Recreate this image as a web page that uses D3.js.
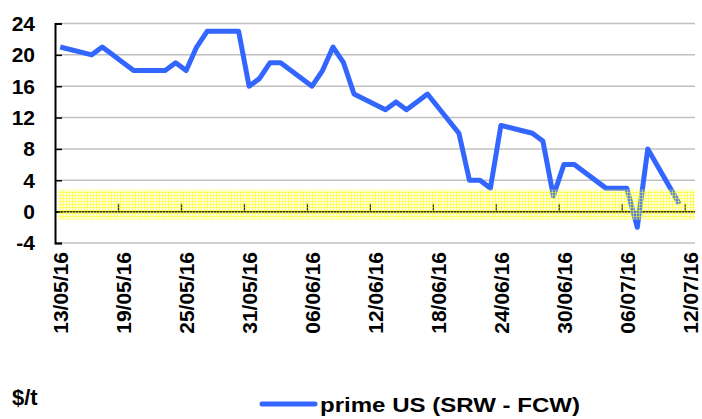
<!DOCTYPE html>
<html>
<head>
<meta charset="utf-8">
<script src="https://cdn.jsdelivr.net/npm/d3@7"></script>
<style>
  body { margin: 0; background: #fff; }
  svg { display: block; font-family: Arial, "Liberation Sans", sans-serif; font-weight: bold; }
</style>
</head>
<body>
<div id="chart"></div>
<script>
// trading days and the premium in $/t
const dates = [
  "13/05/16", "16/05/16", "17/05/16", "18/05/16", "19/05/16", "20/05/16",
  "23/05/16", "24/05/16", "25/05/16", "26/05/16", "27/05/16", "30/05/16",
  "31/05/16", "01/06/16", "02/06/16", "03/06/16", "06/06/16", "07/06/16",
  "08/06/16", "09/06/16", "10/06/16", "13/06/16", "14/06/16", "15/06/16",
  "16/06/16", "17/06/16", "20/06/16", "21/06/16", "22/06/16", "23/06/16",
  "24/06/16", "27/06/16", "28/06/16", "29/06/16", "30/06/16", "01/07/16",
  "04/07/16", "05/07/16", "06/07/16", "07/07/16", "08/07/16", "11/07/16"
];
const premium = [
  21, 20, 21, 20, 19, 18,
  18, 19, 18, 21, 23, 23,
  16, 17, 19, 19, 16, 18,
  21, 19, 15, 13, 14, 13,
  14, 15, 10, 4, 4, 3,
  11, 10, 9, 2, 6, 6,
  3, 3, 3, -2, 8, 1
];
const tickLabels = [
  "13/05/16", "19/05/16", "25/05/16", "31/05/16", "06/06/16", "12/06/16",
  "18/06/16", "24/06/16", "30/06/16", "06/07/16", "12/07/16"
];
const yTicks = [-4, 0, 4, 8, 12, 16, 20, 24];
const band = [-1, 2.8];
const seriesName = "prime US (SRW - FCW)";
const unitLabel = "$/t";

const width = 702, height = 419;
const parse = d3.timeParse("%d/%m/%y");

const data = dates.map((d, i) => ({ date: parse(d), value: premium[i] }));

const start = parse(tickLabels[0]);
const end = d3.timeDay.offset(parse(tickLabels[tickLabels.length - 1]), 1);

const x = d3.scaleTime().domain([start, end]).range([55, 695]);
const y = d3.scaleLinear().domain([-4, 24]).range([243, 23.5]);

// points sit in the middle of their day
const mid = (d) => x(d3.timeHour.offset(d, 12));

const svg = d3.select("#chart").append("svg")
  .attr("width", width)
  .attr("height", height);

const defs = svg.append("defs");
const pat = defs.append("pattern")
  .attr("id", "hatch")
  .attr("width", 3).attr("height", 3)
  .attr("patternUnits", "userSpaceOnUse");
pat.append("rect").attr("width", 3).attr("height", 3)
  .attr("fill", "#ffff80").attr("opacity", 0.2);
pat.append("rect").attr("width", 3).attr("height", 1)
  .attr("fill", "#ffff00").attr("opacity", 0.5);
pat.append("rect").attr("width", 1).attr("height", 3)
  .attr("fill", "#ffff00").attr("opacity", 0.5);

// gridlines
svg.append("g")
  .selectAll("line")
  .data(yTicks)
  .join("line")
  .attr("x1", 55).attr("x2", 695)
  .attr("y1", (d) => y(d)).attr("y2", (d) => y(d))
  .attr("stroke", "#c0c0c0")
  .attr("stroke-width", 1.5);

// y axis
const yAxis = svg.append("g")
  .attr("transform", "translate(55,0)")
  .call(d3.axisRight(y).tickValues(yTicks).tickSize(7).tickFormat(""));
yAxis.select(".domain").attr("stroke", "#000").attr("stroke-width", 2);
yAxis.selectAll(".tick line").attr("stroke", "#000").attr("stroke-width", 1.5);

svg.append("g")
  .selectAll("text")
  .data(yTicks)
  .join("text")
  .attr("x", 35)
  .attr("y", (d) => y(d))
  .attr("dy", "0.35em")
  .attr("text-anchor", "end")
  .style("font-size", "21px")
  .text((d) => d);

// zero axis with date ticks
const xAxis = svg.append("g")
  .attr("transform", "translate(0," + y(0) + ")")
  .call(d3.axisTop(x)
    .tickValues(tickLabels.map(parse).slice(1))
    .tickSize(8)
    .tickFormat(""));
xAxis.select(".domain").attr("stroke", "#000").attr("stroke-width", 1.5)
  .attr("d", "M55,0H695");
xAxis.selectAll(".tick line").attr("stroke", "#000").attr("stroke-width", 1.5);

// date labels
svg.append("g")
  .selectAll("text")
  .data(tickLabels)
  .join("text")
  .attr("transform", (d) => "translate(" + (x(parse(d)) + 6) + ",252) rotate(-90)")
  .attr("dy", "0.35em")
  .attr("text-anchor", "end")
  .style("font-size", "21px")
  .text((d) => d);

// series
const line = d3.line()
  .x((d) => mid(d.date))
  .y((d) => y(d.value));

svg.append("path")
  .datum(data)
  .attr("d", line)
  .attr("fill", "none")
  .attr("stroke", "#3366ff")
  .attr("stroke-width", 5)
  .attr("stroke-linejoin", "round");

// yellow band over the series
svg.append("rect")
  .attr("x", 58)
  .attr("width", 695 - 58)
  .attr("y", y(band[1]))
  .attr("height", y(band[0]) - y(band[1]))
  .attr("fill", "url(#hatch)");

// unit and legend
svg.append("text")
  .attr("x", 12).attr("y", 405)
  .style("font-size", "22px")
  .text(unitLabel);

svg.append("line")
  .attr("x1", 262).attr("x2", 315)
  .attr("y1", 404).attr("y2", 404)
  .attr("stroke", "#3366ff")
  .attr("stroke-width", 5)
  .attr("stroke-linecap", "round");

svg.append("text")
  .attr("x", 320).attr("y", 412)
  .attr("textLength", 260)
  .attr("lengthAdjust", "spacingAndGlyphs")
  .style("font-size", "21px")
  .text(seriesName);
</script>
</body>
</html>
